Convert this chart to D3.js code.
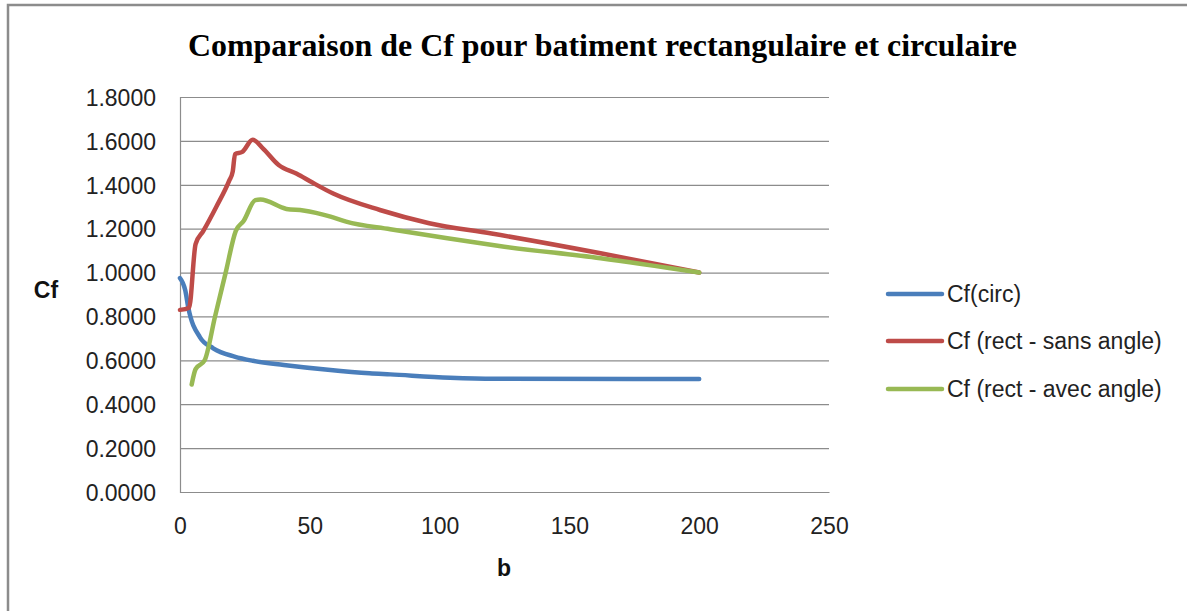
<!DOCTYPE html>
<html>
<head>
<meta charset="utf-8">
<script src="https://cdn.jsdelivr.net/npm/d3@7"></script>
<style>
  html, body { margin: 0; padding: 0; background: #fff; }
  svg { display: block; }
</style>
</head>
<body>
<svg id="chart" width="1187" height="611"></svg>
<script>
// Cf as a function of b, for a circular building and a rectangular one
const bCirc  = [0, 2, 3.2, 7.7, 12.8, 21, 28, 40, 57, 73, 81, 104, 121, 175, 200];
const cfCirc = [0.975, 0.92, 0.84, 0.705, 0.655, 0.617, 0.598, 0.579, 0.557, 0.541, 0.536, 0.521, 0.516, 0.515, 0.515];

const bSans  = [0, 3.5, 6, 9, 14, 19, 20.3, 21.2, 24, 28, 32, 38, 45, 51, 59, 77, 96, 120, 162, 200];
const cfSans = [0.83, 0.84, 1.13, 1.19, 1.30, 1.42, 1.46, 1.54, 1.55, 1.605, 1.565, 1.49, 1.45, 1.41, 1.36, 1.285, 1.225, 1.178, 1.088, 1.0];

const bAvec  = [4.5, 6, 9.5, 13.5, 17.5, 21.5, 24.5, 29, 31, 41, 47.5, 58, 64, 81, 103, 123, 162, 200];
const cfAvec = [0.49, 0.56, 0.60, 0.80, 0.995, 1.19, 1.235, 1.33, 1.333, 1.29, 1.283, 1.255, 1.232, 1.197, 1.156, 1.121, 1.065, 1.0];

const seriesNames = ["Cf(circ)", "Cf (rect - sans angle)", "Cf (rect - avec angle)"];
const seriesColors = ["#4a7ebb", "#be4b48", "#98b954"];

const xTicks = [0, 50, 100, 150, 200, 250];
const yTicks = [0, 0.2, 0.4, 0.6, 0.8, 1.0, 1.2, 1.4, 1.6, 1.8];

const titleText = "Comparaison de Cf pour batiment rectangulaire et circulaire";
const xLabel = "b";
const yLabel = "Cf";

const series = [
  { name: seriesNames[0], color: seriesColors[0], pts: bCirc.map((b, i) => [b, cfCirc[i]]) },
  { name: seriesNames[1], color: seriesColors[1], pts: bSans.map((b, i) => [b, cfSans[i]]) },
  { name: seriesNames[2], color: seriesColors[2], pts: bAvec.map((b, i) => [b, cfAvec[i]]) }
];

const svg = d3.select("#chart");
const plot = { left: 180, right: 829, top: 97, bottom: 492 };

const x = d3.scaleLinear().domain([0, 250]).range([plot.left, plot.right]);
const y = d3.scaleLinear().domain([0, 1.8]).range([plot.bottom, plot.top]);

// outer frame (left and top edges)
svg.append("path")
  .attr("d", "M8,611 L8,5 L1187,5")
  .attr("fill", "none")
  .attr("stroke", "#8c8c8c")
  .attr("stroke-width", 2.5);

// title
svg.append("text")
  .attr("x", 188).attr("y", 56)
  .attr("font-family", "'Liberation Serif', 'Times New Roman', serif")
  .attr("font-weight", "bold")
  .attr("font-size", 32)
  .attr("textLength", 829)
  .attr("lengthAdjust", "spacingAndGlyphs")
  .attr("fill", "#000")
  .text(titleText);

// horizontal gridlines and y labels
const yAxis = d3.axisLeft(y).tickValues(yTicks).tickSize(-(plot.right - plot.left)).tickPadding(24)
  .tickFormat(d3.format(".4f"));
const gy = svg.append("g").attr("transform", `translate(${plot.left},0)`).call(yAxis);
gy.select(".domain").attr("stroke", "#8c8c8c").attr("stroke-width", 1.2);
gy.selectAll(".tick line").attr("stroke", "#8c8c8c").attr("stroke-width", 1.2);
gy.selectAll(".tick text")
  .attr("font-family", "'Liberation Sans', Arial, sans-serif")
  .attr("font-size", 23)
  .attr("fill", "#222")
  .attr("dy", "0.36em");

// x axis
const xAxis = d3.axisBottom(x).tickValues(xTicks).tickSize(0).tickPadding(26).tickFormat(d3.format("d"));
const gx = svg.append("g").attr("transform", `translate(0,${plot.bottom})`).call(xAxis);
gx.select(".domain").attr("stroke", "#8c8c8c").attr("stroke-width", 1.2);
gx.selectAll(".tick text")
  .attr("font-family", "'Liberation Sans', Arial, sans-serif")
  .attr("font-size", 23)
  .attr("fill", "#222")
  .attr("dy", "0.71em");

// axis titles
svg.append("text")
  .attr("x", 46).attr("y", 298)
  .attr("text-anchor", "middle")
  .attr("font-family", "'Liberation Sans', Arial, sans-serif")
  .attr("font-weight", "bold")
  .attr("font-size", 23)
  .attr("fill", "#111")
  .text(yLabel);

svg.append("text")
  .attr("x", 504).attr("y", 576)
  .attr("text-anchor", "middle")
  .attr("font-family", "'Liberation Sans', Arial, sans-serif")
  .attr("font-weight", "bold")
  .attr("font-size", 23)
  .attr("fill", "#111")
  .text(xLabel);

// series lines
const line = d3.line()
  .x(d => x(d[0]))
  .y(d => y(d[1]))
  .curve(d3.curveMonotoneX);

svg.append("g").selectAll("path")
  .data(series)
  .join("path")
  .attr("d", d => line(d.pts))
  .attr("fill", "none")
  .attr("stroke", d => d.color)
  .attr("stroke-width", 4.5)
  .attr("stroke-linejoin", "round")
  .attr("stroke-linecap", "round");

// legend
const legendY = [294, 341, 389];
const legend = svg.append("g").selectAll("g")
  .data(series)
  .join("g")
  .attr("transform", (d, i) => `translate(888,${legendY[i]})`);
legend.append("line")
  .attr("x1", 0).attr("x2", 54)
  .attr("y1", 0).attr("y2", 0)
  .attr("stroke", d => d.color)
  .attr("stroke-width", 4.5)
  .attr("stroke-linecap", "round");
legend.append("text")
  .attr("x", 59).attr("y", 0)
  .attr("dy", "0.36em")
  .attr("font-family", "'Liberation Sans', Arial, sans-serif")
  .attr("font-size", 23)
  .attr("fill", "#222")
  .text(d => d.name);
</script>
</body>
</html>
